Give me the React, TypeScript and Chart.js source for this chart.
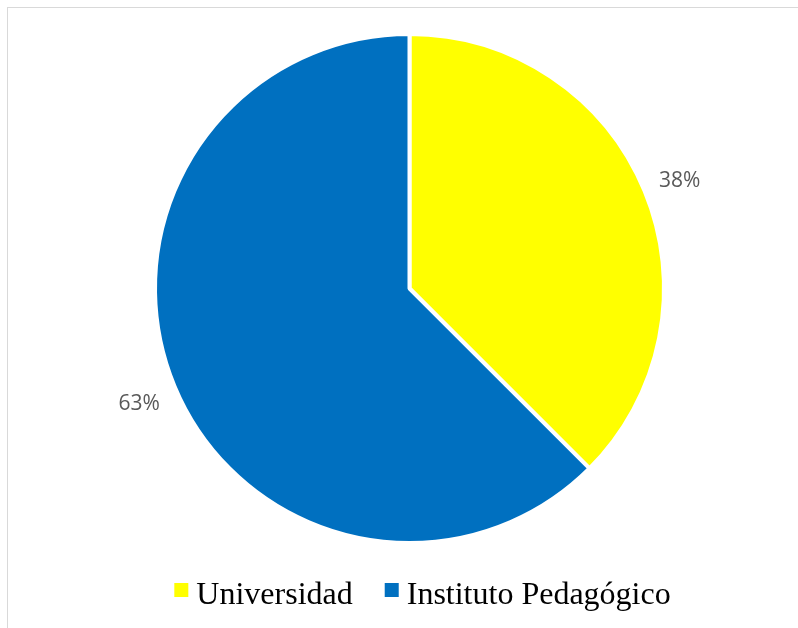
import React, { useEffect, useRef } from "react";
import { Chart, registerables } from "chart.js";

Chart.register(...registerables);

const categories: string[] = ["Universidad", "Instituto Pedagógico"];
const values: number[] = [37.5, 62.5];
const colors: string[] = ["#FFFF00", "#0070C0"];

const pctLabelsPlugin = {
  id: "pctLabels",
  afterDatasetsDraw(chart: any) {
    const ctx = chart.ctx;
    const meta = chart.getDatasetMeta(0);
    const data = chart.data.datasets[0].data as number[];
    const total = data.reduce((a: number, b: number) => a + b, 0);
    ctx.save();
    ctx.font = '21px "Open Sans"';
    ctx.fillStyle = "#595959";
    ctx.textAlign = "center";
    ctx.textBaseline = "middle";
    meta.data.forEach((arc: any, i: number) => {
      const p = arc.getProps(["x", "y", "startAngle", "endAngle", "outerRadius"], true);
      const mid = (p.startAngle + p.endAngle) / 2;
      const r = p.outerRadius + 38;
      const tx = p.x + Math.cos(mid) * r;
      const ty = p.y + Math.sin(mid) * r + 4;
      ctx.fillText(Math.round((data[i] / total) * 100) + "%", tx, ty);
    });
    ctx.restore();
  },
};

const legendPlugin = {
  id: "customLegend",
  afterDraw(chart: any) {
    const ctx = chart.ctx;
    const labels = chart.data.labels as string[];
    const bg = chart.data.datasets[0].backgroundColor as string[];
    const box = 14;
    const gapBoxText = 8;
    const gapItems = 32;
    ctx.save();
    ctx.font = '32px "Liberation Serif"';
    const widths = labels.map((l) => ctx.measureText(l).width);
    const total =
      widths.reduce((a, w) => a + box + gapBoxText + w, 0) + gapItems * (labels.length - 1);
    const centerX = (chart.chartArea.left + chart.chartArea.right) / 2 + 13;
    let x = centerX - total / 2;
    const baseline = 596;
    labels.forEach((l, i) => {
      ctx.fillStyle = bg[i];
      ctx.fillRect(x, baseline - 21, box, box);
      x += box + gapBoxText;
      ctx.fillStyle = "#000000";
      ctx.textAlign = "left";
      ctx.textBaseline = "alphabetic";
      ctx.fillText(l, x, baseline);
      x += widths[i] + gapItems;
    });
    ctx.restore();
  },
};

export default function App() {
  const ref = useRef<HTMLCanvasElement | null>(null);
  useEffect(() => {
    if (!ref.current) return;
    const chart = new Chart(ref.current, {
      type: "pie",
      data: {
        labels: categories,
        datasets: [
          {
            data: values,
            backgroundColor: colors,
            borderColor: "#FFFFFF",
            borderWidth: 4,
          },
        ],
      },
      options: {
        responsive: false,
        animation: false,
        radius: 254.5,
        layout: { padding: { left: 13, right: 0, top: 0, bottom: 59 } },
        plugins: {
          legend: { display: false },
          tooltip: { enabled: false },
        },
      } as any,
      plugins: [pctLabelsPlugin, legendPlugin],
    });
    return () => chart.destroy();
  }, []);
  return (
    <div
      style={{
        position: "absolute",
        left: 7,
        top: 7,
        width: 791,
        height: 621,
        boxSizing: "border-box",
        borderTop: "1px solid #d9d9d9",
        borderLeft: "1px solid #d9d9d9",
        background: "#ffffff",
      }}
    >
      <canvas ref={ref} width={790} height={620} style={{ display: "block", width: 790, height: 620 }} />
    </div>
  );
}
